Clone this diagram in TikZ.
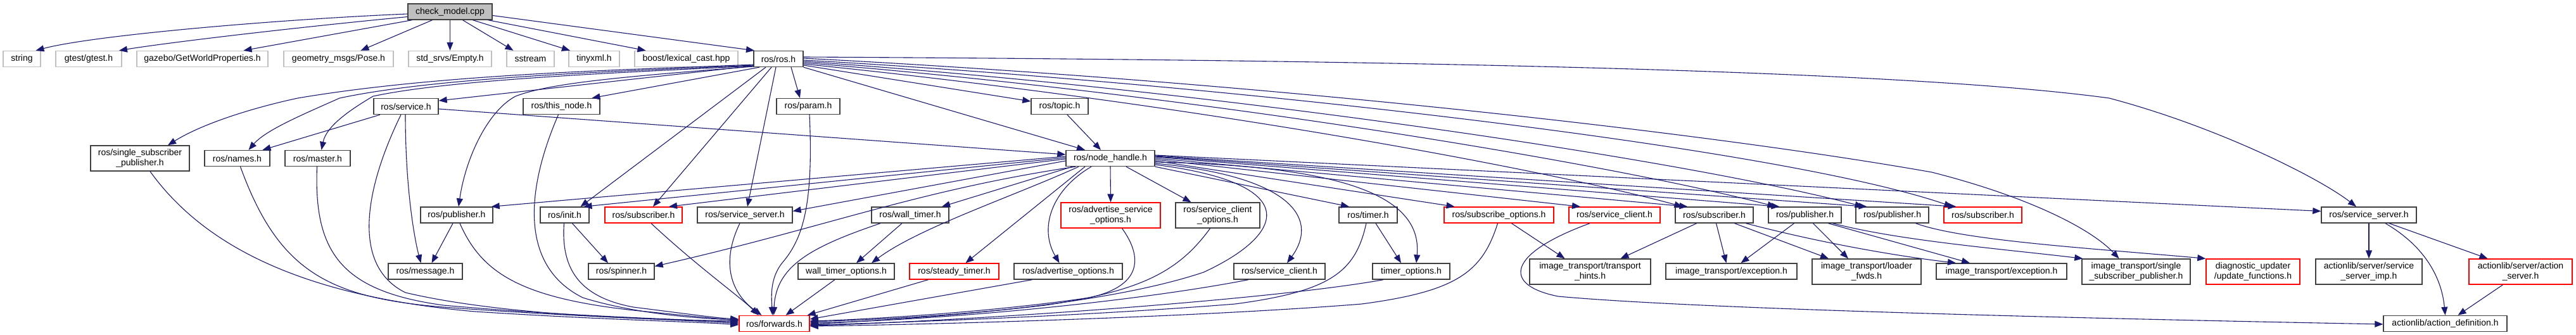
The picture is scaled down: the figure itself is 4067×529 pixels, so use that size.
\documentclass[tikz,border=0pt]{standalone}
\usepackage{fontspec}
\setmainfont{Liberation Sans}
\usetikzlibrary{arrows.meta}
\definecolor{edgec}{HTML}{191970}
\definecolor{leafc}{HTML}{BFBFBF}
\definecolor{nodec}{HTML}{404040}
\begin{document}
\begin{tikzpicture}[x=1pt,y=-1pt,
  nbox/.style={draw=nodec, line width=1.4pt, fill=white, inner sep=0pt, minimum height=25pt, align=center, font=\fontsize{14}{16}\selectfont},
  leafbox/.style={nbox, draw=leafc},
  redbox/.style={nbox, draw=red},
  tall/.style={minimum height=40pt},
  dep/.style={draw=edgec, line width=1.1pt, -{Triangle[length=13pt,width=10pt]}, fill=none}]
\fill[white] (0,0) rectangle (4067,529);
\useasboundingbox (0,0) rectangle (4067,529);
% row 0
\node[nbox, fill=leafc, minimum width=133pt] (cm) at (710.5,18.5) {check\_model.cpp};
% row 1
\node[leafbox, minimum width=59pt] (str) at (34.5,93) {string};
\node[leafbox, minimum width=104pt] (gtest) at (140,93) {gtest/gtest.h};
\node[leafbox, minimum width=207pt] (gazebo) at (319.5,93) {gazebo/GetWorldProperties.h};
\node[leafbox, minimum width=173pt] (geom) at (534.5,93) {geometry\_msgs/Pose.h};
\node[leafbox, minimum width=131pt] (stdsrv) at (710.5,93) {std\_srvs/Empty.h};
\node[leafbox, minimum width=75pt] (sstream) at (837.5,93) {sstream};
\node[leafbox, minimum width=80pt] (tinyxml) at (938,93) {tinyxml.h};
\node[leafbox, minimum width=163pt] (boost) at (1083.5,93) {boost/lexical\_cast.hpp};
\node[nbox, minimum width=78pt] (ros) at (1229,93) {ros/ros.h};
% row 2
\node[nbox, minimum width=102pt] (service) at (641,168) {ros/service.h};
\node[nbox, minimum width=121pt] (thisnode) at (886.5,168) {ros/this\_node.h};
\node[nbox, minimum width=100pt] (param) at (1276,168) {ros/param.h};
\node[nbox, minimum width=90pt] (topic) at (1673,168) {ros/topic.h};
% row 3
\node[nbox, tall, minimum width=156pt] (ssp) at (221,250) {ros/single\_subscriber\\\_publisher.h};
\node[nbox, minimum width=103pt] (names) at (374.5,250) {ros/names.h};
\node[nbox, minimum width=103pt] (master) at (501.5,250) {ros/master.h};
\node[nbox, minimum width=140pt] (nh) at (1753,250) {ros/node\_handle.h};
% row 4
\node[nbox, minimum width=114pt] (pub1) at (721,339.5) {ros/publisher.h};
\node[nbox, minimum width=77pt] (init) at (891.5,339.5) {ros/init.h};
\node[redbox, minimum width=122pt] (sub1) at (1016,339.5) {ros/subscriber.h};
\node[nbox, minimum width=150pt] (ss1) at (1176,339.5) {ros/service\_server.h};
\node[nbox, minimum width=122pt] (wt) at (1437,339.5) {ros/wall\_timer.h};
\node[redbox, tall, minimum width=157pt] (aso) at (1753.5,340) {ros/advertise\_service\\\_options.h};
\node[nbox, tall, minimum width=133pt] (sco) at (1922.5,340) {ros/service\_client\\\_options.h};
\node[nbox, minimum width=92pt] (timer) at (2160,339.5) {ros/timer.h};
\node[redbox, minimum width=173pt] (subopt) at (2366.5,339.5) {ros/subscribe\_options.h};
\node[redbox, minimum width=144pt] (sc1) at (2549,339.5) {ros/service\_client.h};
\node[nbox, minimum width=123pt] (sub2) at (2706.5,339.5) {ros/subscriber.h};
\node[nbox, minimum width=115pt] (pub2) at (2849.5,339.5) {ros/publisher.h};
\node[nbox, minimum width=115pt] (pub3) at (2987.5,339.5) {ros/publisher.h};
\node[redbox, minimum width=123pt] (sub3) at (3130.5,339.5) {ros/subscriber.h};
\node[nbox, minimum width=150pt] (ss2) at (3740,339.5) {ros/service\_server.h};
% row 5
\node[nbox, minimum width=117pt] (msg) at (671.5,428.5) {ros/message.h};
\node[nbox, minimum width=104pt] (spin) at (981,428.5) {ros/spinner.h};
\node[nbox, minimum width=152pt] (wto) at (1336,428.5) {wall\_timer\_options.h};
\node[redbox, minimum width=141pt] (st) at (1506.5,428.5) {ros/steady\_timer.h};
\node[nbox, minimum width=171pt] (ao) at (1686.5,428.5) {ros/advertise\_options.h};
\node[nbox, minimum width=144pt] (sc2) at (2020,428.5) {ros/service\_client.h};
\node[nbox, minimum width=122pt] (tops) at (2228,428.5) {timer\_options.h};
\node[nbox, tall, minimum width=191pt] (th) at (2510.5,429) {image\_transport/transport\\\_hints.h};
\node[nbox, minimum width=207pt] (ex1) at (2733.5,428.5) {image\_transport/exception.h};
\node[nbox, tall, minimum width=172pt] (lfw) at (2947,429) {image\_transport/loader\\\_fwds.h};
\node[nbox, minimum width=206pt] (ex2) at (3160,428.5) {image\_transport/exception.h};
\node[nbox, tall, minimum width=171pt] (itssp) at (3372.5,429) {image\_transport/single\\\_subscriber\_publisher.h};
\node[redbox, tall, minimum width=148pt] (du) at (3557,429) {diagnostic\_updater\\/update\_functions.h};
\node[nbox, tall, minimum width=168pt] (ssi) at (3740,429) {actionlib/server/service\\\_server\_imp.h};
\node[redbox, tall, minimum width=163pt] (asrv) at (3979.5,429) {actionlib/server/action\\\_server.h};
% row 6
\node[redbox, minimum width=111pt] (fwd) at (1222.5,511) {ros/forwards.h};
\node[nbox, minimum width=195pt] (ad) at (3860.5,511) {actionlib/action\_definition.h};

% edges from check_model.cpp
\draw[dep] ([yshift=-3.5pt]cm.west) .. controls (450,30) and (150,55) .. ([xshift=22pt]str.north);
\draw[dep] ([yshift=-8pt]cm.west) .. controls (450,45) and (260,68) .. ([xshift=48pt]gtest.north);
\draw[dep] ([xshift=-60pt]cm.south) -- ([xshift=65pt]gazebo.north);
\draw[dep] ([xshift=-28pt]cm.south) -- ([xshift=35pt]geom.north);
\draw[dep] (cm.south) -- (stdsrv.north);
\draw[dep] ([xshift=20pt]cm.south) -- ([xshift=-27pt]sstream.north);
\draw[dep] ([xshift=36pt]cm.south) -- ([xshift=-38pt]tinyxml.north);
\draw[dep] ([xshift=60pt]cm.south) -- ([xshift=-64pt]boost.north);
\draw[dep] ([yshift=-6pt]cm.east) -- ([xshift=-38pt]ros.north);

% edges from ros/ros.h
\draw[dep] ([yshift=-11pt]ros.west) -- ([yshift=9pt]service.east);
\draw[dep] ([xshift=-30pt]ros.south) -- ([xshift=48pt]thisnode.north);
\draw[dep] ([xshift=20pt]ros.south) -- ([xshift=-13pt]param.north);
\draw[dep] ([yshift=-10pt]ros.east) -- ([yshift=8pt]topic.west);
\draw[dep] (ros.south east) -- ([xshift=-40pt]nh.north);
\draw[dep] ([yshift=-9pt]ros.west) .. controls (1000,110) and (700,116) .. (470,155) .. controls (400,170) and (320,195) .. ([xshift=44pt]ssp.north);
\draw[dep] ([yshift=-10pt]ros.west) .. controls (1000,112) and (700,120) .. (536,155) .. controls (480,180) and (420,205) .. ([xshift=18pt]names.north);
\draw[dep] ([yshift=-11pt]ros.west) .. controls (1000,114) and (720,124) .. (589,152) .. controls (550,175) and (515,200) .. ([xshift=6pt]master.north);
\draw[dep] ([yshift=-12pt]ros.west) .. controls (1000,120) and (870,130) .. (814,152) .. controls (770,175) and (735,250) .. ([xshift=3pt]pub1.north);
\draw[dep] ([xshift=-20pt]ros.south) -- ([xshift=25pt]init.north);
\draw[dep] ([xshift=-11pt]ros.south) -- ([xshift=15pt]sub1.north);
\draw[dep] ([xshift=-4pt]ros.south) -- ([xshift=4pt]ss1.north);
\draw[dep] ([yshift=3pt]ros.east) .. controls (2200,95) and (3000,110) .. (3330,155) .. controls (3500,200) and (3660,280) .. ([xshift=-20pt]ss2.north);
\draw[dep] ([yshift=1pt]ros.east) .. controls (2000,130) and (2700,210) .. (3050,272) .. controls (3200,310) and (3300,360) .. ([xshift=-27pt]itssp.north);
\draw[dep] ([yshift=-2pt]ros.east) .. controls (1900,130) and (2800,230) .. ([xshift=-48pt]sub3.north);
\draw[dep] ([yshift=-4pt]ros.east) .. controls (1900,140) and (2650,250) .. ([xshift=-46pt]pub3.north);
\draw[dep] ([yshift=-6pt]ros.east) .. controls (1900,150) and (2550,260) .. ([xshift=-46pt]pub2.north);
\draw[dep] ([yshift=-8pt]ros.east) .. controls (1900,165) and (2450,270) .. ([xshift=-50pt]sub2.north);

% topic, service -> node_handle
\draw[dep] ([xshift=12pt]topic.south) -- ([xshift=-15pt]nh.north);
\draw[dep] ([yshift=-4pt]service.east) -- ([yshift=6pt]nh.west);

% edges from ros/node_handle.h (left)
\draw[dep] ([yshift=3pt]nh.west) -- ([xshift=-3pt]pub1.north east);
\draw[dep] ([yshift=1pt]nh.west) -- ([xshift=30pt]init.north);
\draw[dep] ([yshift=-1pt]nh.west) -- ([xshift=40pt]sub1.north);
\draw[dep] ([yshift=-4pt]nh.west) -- ([yshift=6pt]ss1.east);
\draw[dep] ([xshift=-55pt]nh.south) .. controls (1450,300) and (1300,360) .. ([yshift=8pt]spin.east);
\draw[dep] ([xshift=-60pt]nh.south) -- ([xshift=50pt]wt.north);
\draw[dep] ([xshift=-50pt]nh.south) .. controls (1600,310) and (1450,360) .. ([xshift=40pt]wto.north);
\draw[dep] ([xshift=-40pt]nh.south) -- ([xshift=18pt]st.north);
\draw[dep] ([xshift=-30pt]nh.south) .. controls (1660,300) and (1640,360) .. ([xshift=-14pt]ao.north);
\draw[dep] (nh.south) -- (aso.north);
\draw[dep] ([xshift=25pt]nh.south) -- ([xshift=-42pt]sco.north);
% edges from ros/node_handle.h (right)
\draw[dep] ([yshift=-10pt]nh.east) .. controls (2060,290) and (2030,370) .. (1900,430) .. controls (1720,490) and (1400,505) .. ([yshift=-1pt]fwd.east);
\draw[dep] ([yshift=-8pt]nh.east) .. controls (2050,280) and (2080,350) .. ([xshift=12pt]sc2.north);
\draw[dep] (nh.south east) -- ([xshift=-30pt]timer.north);
\draw[dep] ([yshift=-6pt]nh.east) .. controls (2150,262) and (2245,320) .. ([xshift=8pt]tops.north);
\draw[dep] ([yshift=-4pt]nh.east) -- ([xshift=-70pt]subopt.north);
\draw[dep] ([yshift=-2pt]nh.east) -- ([xshift=-54pt]sc1.north);
\draw[dep] (nh.east) -- ([xshift=-42pt]sub2.north);
\draw[dep] ([yshift=2pt]nh.east) -- ([xshift=-40pt]pub2.north);
\draw[dep] ([yshift=3pt]nh.east) -- ([xshift=-40pt]pub3.north);
\draw[dep] ([yshift=4pt]nh.east) -- ([xshift=-42pt]sub3.north);
\draw[dep] ([yshift=5pt]nh.east) -- ([yshift=6pt]ss2.west);

% ros/service.h
\draw[dep] ([xshift=-41pt]service.south) -- ([xshift=40pt]names.north);
\draw[dep] ([xshift=-1pt]service.south) .. controls (640,300) and (655,380) .. ([xshift=-7pt]msg.north);
\draw[dep] ([xshift=-8pt]service.south) .. controls (575,300) and (555,420) .. (640,462) .. controls (800,500) and (1050,505) .. ([yshift=4pt]fwd.west);

% to ros/forwards.h from left side
\draw[dep] ([xshift=16pt]ssp.south) .. controls (330,400) and (500,470) .. (750,492) .. controls (950,505) and (1100,508) .. ([yshift=-2pt]fwd.west);
\draw[dep] ([xshift=5pt]names.south) .. controls (440,430) and (520,470) .. (700,485) .. controls (900,500) and (1100,506) .. (fwd.west);
\draw[dep] ([xshift=-1pt]master.south) .. controls (495,400) and (540,460) .. (700,482) .. controls (900,500) and (1100,505) .. ([yshift=2pt]fwd.west);
\draw[dep] ([xshift=-5pt]thisnode.south) .. controls (830,300) and (820,420) .. (920,470) .. controls (1000,495) and (1100,503) .. ([yshift=6pt]fwd.west);
\draw[dep] ([xshift=-6pt]pub1.south) -- ([xshift=10pt]msg.north);
\draw[dep] ([xshift=5pt]pub1.south) .. controls (760,430) and (820,470) .. (1000,490) .. controls (1080,498) and (1130,503) .. ([yshift=5pt]fwd.west);
\draw[dep] ([xshift=12pt]init.south) -- ([xshift=-21pt]spin.north);
\draw[dep] ([xshift=-1pt]init.south) .. controls (885,430) and (920,470) .. (1000,485) .. controls (1080,495) and (1130,502) .. ([yshift=7pt]fwd.west);
\draw[dep] ([xshift=12pt]sub1.south) .. controls (1100,420) and (1170,470) .. ([xshift=-25pt]fwd.north);
\draw[dep] ([xshift=-8pt]ss1.south) .. controls (1140,410) and (1150,460) .. ([xshift=-20pt]fwd.north);
\draw[dep] ([xshift=2pt]param.south) .. controls (1285,330) and (1265,380) .. (1235,415) .. controls (1215,440) and (1218,470) .. ([xshift=-3pt]fwd.north);
\draw[dep] ([xshift=-47pt]wt.south) .. controls (1280,390) and (1225,420) .. ([xshift=-1pt]fwd.north);
\draw[dep] ([xshift=-13pt]wt.south) -- ([xshift=16pt]wto.north);
\draw[dep] ([xshift=-18pt]wto.south) -- ([xshift=18pt]fwd.north);
\draw[dep] ([xshift=-41pt]st.south) -- ([xshift=-4pt]fwd.north east);
\draw[dep] ([xshift=-57pt]ao.south) -- ([yshift=7pt]fwd.east);
\draw[dep] ([xshift=18pt]aso.south) .. controls (1800,400) and (1810,450) .. (1720,470) .. controls (1550,495) and (1350,505) .. ([yshift=4pt]fwd.east);
\draw[dep] ([xshift=-12pt]sco.south) .. controls (1860,430) and (1800,460) .. (1650,482) .. controls (1500,500) and (1350,506) .. ([yshift=3pt]fwd.east);
\draw[dep] ([xshift=-49pt]sc2.south) .. controls (1800,475) and (1500,505) .. ([yshift=1pt]fwd.east);
\draw[dep] ([xshift=-3pt]timer.south) .. controls (2140,430) and (2100,460) .. (1950,480) .. controls (1700,500) and (1400,510) .. ([yshift=-2pt]fwd.east);
\draw[dep] ([xshift=12pt]timer.south) -- ([xshift=-16pt]tops.north);
\draw[dep] ([xshift=-44pt]tops.south) .. controls (2000,475) and (1500,508) .. ([yshift=-3pt]fwd.east);
\draw[dep] ([xshift=-2pt]subopt.south) .. controls (2340,430) and (2300,460) .. (2150,480) .. controls (1900,500) and (1500,512) .. ([yshift=-4pt]fwd.east);

% right part
\draw[dep] ([xshift=20pt]subopt.south) -- ([xshift=-40pt]th.north);
\draw[dep] ([xshift=-39pt]sc1.south) .. controls (2380,400) and (2370,450) .. (2460,468) .. controls (2700,490) and (3400,505) .. ([yshift=-1pt]ad.west);
\draw[dep] ([xshift=-28pt]sub2.south) -- ([xshift=48pt]th.north);
\draw[dep] ([xshift=3pt]sub2.south) -- ([xshift=-8pt]ex1.north);
\draw[dep] ([xshift=32pt]sub2.south) -- ([xshift=-60pt]lfw.north);
\draw[dep] ([xshift=50pt]sub2.south) .. controls (2880,385) and (3000,405) .. ([xshift=-72pt]ex2.north);
\draw[dep] ([xshift=-17pt]pub2.south) -- ([xshift=15pt]ex1.north);
\draw[dep] ([xshift=13pt]pub2.south) -- ([xshift=-29pt]lfw.north);
\draw[dep] ([xshift=37pt]pub2.south) -- ([xshift=-50pt]ex2.north);
\draw[dep] ([xshift=44pt]pub2.south) .. controls (3000,380) and (3150,392) .. ([xshift=2pt]itssp.north west);
\draw[dep] ([xshift=37pt]pub3.south) .. controls (3100,380) and (3300,392) .. (du.north west);
\draw[dep] (ss2.south) -- (ssi.north);
\draw[dep] ([xshift=26pt]ss2.south) .. controls (3830,390) and (3855,440) .. (ad.north);
\draw[dep] ([xshift=32pt]ss2.south) -- ([xshift=-52pt]asrv.north);
\draw[dep] ([xshift=-28pt]asrv.south) -- ([xshift=20pt]ad.north);
\end{tikzpicture}
\end{document}
